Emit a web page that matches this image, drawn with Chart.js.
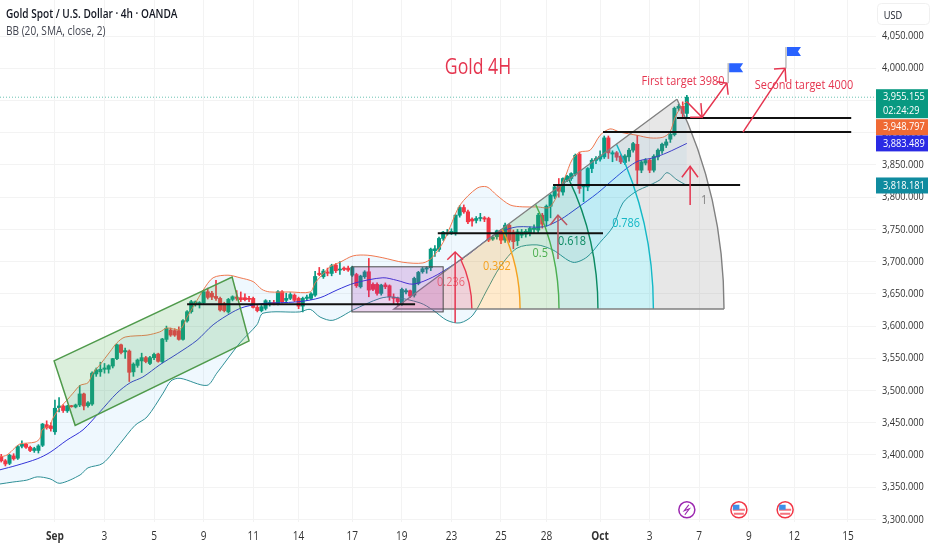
<!DOCTYPE html>
<html lang="en">
  <head>
    <meta charset="UTF-8" />
    <title>Gold 4H</title>
    <style>
      body {
        margin: 0;
        padding: 0;
        background: #ffffff;
        overflow: hidden;
      }
      #goldChart {
        display: block;
      }
    </style>
    <script src="https://cdn.jsdelivr.net/npm/chart.js"></script>
  </head>
  <body>
    <canvas id="goldChart" width="932" height="550"></canvas>
    <script>
      // 4h candles, oldest first
      const opens = [
        3397.6, 3391, 3387, 3398.6, 3395, 3413.6, 3416.6, 3412, 3407, 3407,
        3415, 3447, 3445, 3436, 3473.5, 3476, 3468.5, 3476, 3474.5, 3477.6,
        3494.7, 3476.6, 3479, 3525.7, 3529, 3533, 3533, 3538, 3549.5, 3571,
        3560, 3561.3, 3529, 3539, 3546, 3551, 3542, 3551, 3556.7, 3545,
        3579.4, 3593.9, 3593, 3592.9, 3579.4, 3608, 3622.3, 3634, 3635, 3636,
        3653.3, 3651, 3646, 3643, 3635, 3622, 3641.4, 3645, 3644, 3644,
        3643, 3643, 3629, 3624, 3627.5, 3635, 3636, 3635, 3653.3, 3640,
        3643, 3648, 3643, 3631, 3643, 3643, 3648, 3682, 3676.6, 3684,
        3681.7, 3694.6, 3687, 3690, 3690, 3679, 3680, 3661, 3676.6, 3684.3,
        3664.7, 3664.7, 3650.7, 3664, 3662.6, 3645, 3643, 3635.2, 3653, 3654.9,
        3648, 3666.2, 3684.3, 3688.5, 3690.5, 3717, 3719, 3736, 3743, 3745,
        3743.7, 3772, 3784, 3777.3, 3766, 3764, 3767, 3768, 3767, 3735,
        3738.6, 3747.9, 3733.4, 3756.6, 3746, 3732.4, 3741, 3742.7, 3743.7, 3750,
        3748.9, 3772.1, 3763.3, 3786, 3801.6, 3819.7, 3808, 3826.4, 3829, 3835.7,
        3866.7, 3816, 3815.9, 3844.5, 3857, 3859, 3862.6, 3892, 3867, 3869,
        3863.6, 3853.8, 3862.6, 3873, 3882, 3841.9, 3853, 3857.4, 3841.9, 3862.6,
        3871.9, 3880.6, 3890, 3897, 3938, 3941, 3930,
      ];
      const highs = [
        3401, 3393, 3401, 3402, 3415, 3422, 3418, 3414, 3412, 3416,
        3449, 3453, 3450, 3485, 3489, 3478, 3477, 3477, 3479, 3508,
        3496, 3483, 3529, 3535, 3544, 3542, 3540, 3550, 3572, 3572,
        3566, 3563, 3543, 3549, 3558, 3553, 3553, 3558, 3558, 3581,
        3600, 3597, 3596, 3599, 3610, 3624, 3640, 3639, 3638, 3655,
        3659, 3654, 3671, 3645, 3637, 3643, 3647, 3655, 3653, 3650,
        3646, 3645, 3632, 3632, 3641, 3640, 3640, 3655, 3655, 3651,
        3652, 3650, 3645, 3645, 3648, 3652, 3685, 3691, 3688, 3690,
        3696, 3697, 3700, 3692, 3693, 3693, 3682, 3679, 3686, 3705,
        3667, 3667, 3665, 3667, 3664, 3650, 3645, 3659, 3658, 3656,
        3676, 3685, 3691, 3692, 3721, 3725, 3738, 3747, 3750, 3751,
        3773, 3787, 3788, 3780, 3768, 3770, 3775, 3770, 3769, 3741,
        3749, 3750, 3760, 3758, 3749, 3750, 3750, 3750, 3754, 3757,
        3775, 3775, 3788, 3805, 3817, 3829, 3830, 3834, 3838, 3867,
        3870, 3820, 3846, 3860, 3863, 3872, 3895, 3895, 3872, 3871,
        3866, 3866, 3876, 3885, 3896, 3857, 3860, 3860, 3866, 3875,
        3884, 3890, 3899, 3940, 3944, 3948, 3958,
      ];
      const lows = [
        3389, 3383, 3385, 3392, 3393, 3411, 3410, 3405, 3404, 3403,
        3413, 3440, 3437, 3432, 3467, 3466, 3466, 3474, 3473, 3475,
        3470, 3474, 3477, 3522, 3522, 3527, 3527, 3535, 3548, 3557,
        3550, 3514, 3522, 3536, 3528, 3543, 3540, 3548, 3544, 3543,
        3576, 3584, 3584, 3578, 3578, 3606, 3620, 3631, 3628, 3634,
        3642, 3641, 3640, 3623, 3622, 3620, 3639, 3640, 3638, 3639,
        3638, 3628, 3622, 3622, 3625, 3631, 3633, 3633, 3636, 3637,
        3641, 3638, 3627, 3622, 3640, 3641, 3646, 3678, 3674, 3678,
        3678, 3683, 3680, 3686, 3685, 3677, 3660, 3659, 3674, 3645.5,
        3655, 3648, 3648, 3658, 3640, 3635, 3632, 3632, 3650, 3644,
        3645, 3664, 3682, 3682, 3686, 3708, 3716, 3733, 3741, 3742,
        3741, 3769, 3775, 3759, 3755, 3760, 3763, 3762, 3731, 3733,
        3735, 3728, 3730, 3730, 3720, 3725, 3737, 3738, 3740, 3745,
        3745, 3752, 3755, 3768, 3798, 3800, 3803, 3824, 3826, 3833,
        3806, 3793, 3810, 3838, 3852, 3856, 3860, 3860, 3855, 3857,
        3852, 3851, 3856, 3870, 3818, 3838, 3850, 3838, 3839, 3858,
        3868, 3877, 3885, 3895, 3934, 3925, 3925,
      ];
      const closes = [
        3391, 3386, 3399.6, 3394, 3413, 3416.6, 3412, 3407, 3410, 3414,
        3448, 3442.5, 3441, 3472.5, 3476, 3469, 3476, 3475, 3477.6, 3494.7,
        3476, 3481, 3527, 3532, 3533, 3535, 3538.6, 3549.5, 3571, 3559,
        3562, 3528.3, 3541, 3547.4, 3551, 3545, 3551, 3556, 3545.3, 3580,
        3596.5, 3586.1, 3586, 3579.4, 3608.4, 3622.3, 3637.8, 3637.8, 3636, 3653.3,
        3644.5, 3645, 3643, 3625, 3624, 3641.4, 3645.6, 3643, 3641, 3641,
        3641.5, 3629, 3624, 3630, 3639.4, 3636, 3635, 3653.3, 3637.8, 3643,
        3649, 3640, 3631, 3643, 3645, 3650, 3677, 3680, 3685.4, 3682,
        3693.6, 3685.9, 3688, 3688, 3687, 3691, 3662.6, 3677.6, 3684, 3655.9,
        3657, 3650.7, 3663.6, 3661, 3645.6, 3643, 3638, 3656.9, 3655, 3646.6,
        3674, 3683.3, 3688.9, 3690.5, 3719.4, 3720, 3736, 3745.8, 3744, 3747,
        3772, 3784, 3777.3, 3761.8, 3763, 3767, 3768.5, 3766, 3733.4, 3738,
        3747.9, 3733.4, 3756.6, 3733.4, 3731, 3746.3, 3746, 3747, 3751.5, 3752,
        3772.1, 3758.2, 3786, 3803.1, 3816, 3809.3, 3829, 3832.6, 3836.7, 3865,
        3813.5, 3818.6, 3844.5, 3857.4, 3860, 3863.6, 3892, 3868.8, 3869, 3862,
        3854.8, 3864, 3873, 3883.2, 3842, 3854.8, 3857, 3841.9, 3863.6, 3873,
        3882.2, 3885.8, 3897.7, 3938, 3941, 3930, 3955.155,
      ];

      // Bollinger bands, sampled along each curve as bar / price pairs
      const upperBars = [
        -0.3, 1.4, 3.3, 4.5, 8.2, 9.4, 9.9, 11.8, 12.5, 14.2, 15.9, 17.4, 19.1,
        21, 22.2, 23.9, 26.3, 28, 30, 35.3, 38.4, 40.1, 43.3, 45, 47.4, 48.9,
        51.3, 54.9, 57.8, 61, 63.1, 65, 69.9, 74.8, 76, 77.2, 79.6, 82, 85.2,
        88.6, 92.4, 97.3, 102.1, 104.3, 107, 108.7, 111.1, 115.2, 117.6, 120,
        123.2, 126.3, 129.7, 132.9, 136.5, 138.2, 140.1, 142.6, 145, 147.4,
        149.8, 154, 157.1, 160.2, 161.9, 163.1, 164.4, 166,
      ];
      const upperVals = [
        3397, 3400, 3411, 3417, 3420, 3426, 3439, 3446, 3457, 3473, 3485, 3496,
        3508, 3512, 3527, 3540, 3560, 3574, 3583, 3586, 3591, 3597, 3595, 3614,
        3640, 3656, 3675, 3679, 3675, 3669, 3657, 3653, 3653, 3653, 3667, 3676,
        3692, 3699, 3709, 3710, 3706, 3699, 3698, 3706, 3730, 3754, 3788, 3814,
        3816, 3803, 3788, 3785, 3785, 3785, 3831, 3858, 3870, 3873, 3896, 3906,
        3901, 3896, 3892, 3893, 3901, 3923, 3938, 3948.797,
      ];
      const basisBars = [
        -0.3, 3.8, 8.7, 11.8, 15.9, 19.8, 23.9, 28, 31.2, 34.3, 38.4, 42.6,
        47.4, 51.3, 56.1, 59, 63.4, 66.8, 72.3, 77.2, 81.3, 85.7, 92.4, 95.8,
        99.7, 104.5, 109.4, 113.5, 117.6, 120.8, 124.9, 131.2, 135.3, 139.4,
        144.3, 148.1, 151.5, 154.2, 157.8, 161.2, 166,
      ];
      const basisVals = [
        3377, 3384, 3394, 3404, 3423, 3439, 3467, 3496, 3512, 3521, 3540, 3557,
        3578, 3602, 3622, 3630, 3635, 3636, 3638, 3644, 3656, 3667, 3675, 3671,
        3665, 3676, 3695, 3713, 3734, 3746, 3754, 3754, 3765, 3783, 3806, 3827,
        3845, 3856, 3861, 3869, 3883.489,
      ];
      const lowerBars = [
        -0.3, 2.8, 6.2, 8.7, 11.8, 14.2, 19.1, 21, 24.6, 28.8, 32.4, 35.3, 39.2,
        41.1, 43.3, 49.8, 52.2, 57.8, 61.9, 63.4, 72.3, 74.8, 77.2, 80.3, 85.2,
        91.7, 94.9, 101.4, 104.5, 107.9, 111.1, 114.2, 117.6, 120.8, 124.9,
        129.7, 133.6, 138.4, 141.8, 145, 148.1, 150.5, 153.5, 157.1, 159.5,
        161.2, 163.6, 166,
      ];
      const lowerVals = [
        3355, 3358, 3361, 3366, 3363, 3356, 3369, 3380, 3387, 3418, 3446, 3459,
        3496, 3515, 3519, 3508, 3527, 3574, 3602, 3620, 3622, 3626, 3614, 3609,
        3625, 3643, 3645, 3636, 3625, 3609, 3605, 3617, 3656, 3692, 3721, 3726,
        3718, 3699, 3707, 3730, 3754, 3791, 3808, 3819, 3827, 3838, 3827, 3818.181,
      ];

      // axis labels
      const yTicks = [
        3300, 3350, 3400, 3450, 3500, 3550, 3600, 3650, 3700, 3750, 3800, 3850,
        3900, 3950, 4000, 4050,
      ];
      const xTickBars = [13, 25, 37, 49, 61, 72, 85, 97, 109, 121, 132, 145, 157, 169, 181, 192, 205];
      const xTickLabels = ["Sep", "3", "5", "9", "11", "14", "17", "19", "23", "25", "28", "Oct", "3", "7", "9", "12", "15"];

      // price labels on the right axis
      const axisPrices = [3955.155, 3948.797, 3883.489, 3818.181];
      const axisColors = ["#089981", "#ef6a35", "#2a2ae4", "#0f8b9f"];
      const countdown = "02:24:29";

      // fib wedge: ellipse centre, radii in bars and dollars, apex of the fan
      const fibCentre = [95.1, 3626.5];
      const fibRadius = [79.9, 633];
      const fibApex = [163.6, 3952];
      const fibLevels = [0, 0.236, 0.382, 0.5, 0.618, 0.786, 1];
      const fibLines = ["", "#e8394f", "#f5a11f", "#4caf50", "#0b8a62", "#14b8c6", "#808080"];
      const fibFills = ["", "rgba(242,54,69,0.2)", "rgba(255,152,0,0.2)", "rgba(76,175,80,0.2)", "rgba(8,153,129,0.2)", "rgba(0,188,212,0.2)", "rgba(120,120,120,0.18)"];
      const fibNames = ["", "0.236", "0.382", "0.5", "0.618", "0.786", "1"];
      const fibNameAt = [[], [108.9, 3668], [120, 3693], [130.5, 3713], [138.2, 3732], [151.3, 3760], [170.2, 3795]];

      // drawings, all as bar / price pairs
      const channel = [[12.8, 3546], [55.9, 3676], [60, 3577], [17.9, 3446]];
      const purpleBox = [[84.9, 3692], [107, 3622]];
      const blackLines = [
        [45, 100.2, 3634],
        [105.7, 145.7, 3744],
        [133.6, 178.9, 3819],
        [145.7, 205.8, 3901],
        [163.6, 205.8, 3923],
      ];
      const redPaths = [
        [[109.9, 3605], [109.9, 3715]],
        [[108, 3703], [109.9, 3715], [111.8, 3703]],
        [[166.8, 3788], [166.8, 3848]],
        [[164.8, 3831], [166.8, 3848], [168.7, 3831]],
        [[166, 3948], [169.7, 3924], [175.7, 3977]],
        [[166.8, 3924], [169.7, 3924], [169.4, 3946]],
        [[173.3, 3979], [175.7, 3977], [176, 3959]],
        [[179.6, 3901], [189.8, 4000]],
        [[187.1, 3999], [189.8, 4000], [190, 3979]],
      ];
      const mutedPaths = [
        [[134.8, 3704], [134.8, 3772]],
        [[132.9, 3757], [134.8, 3772], [137, 3757]],
      ];
      const flagBars = [176, 190];
      const flagTops = [4008, 4033];
      const flagBottoms = [3977, 4000];
      const eventBars = [166, 178.6, 189.8];
      const eventPrice = 3315;

      const up = "#089981";
      const down = "#f23645";
      const red = "#e5354f";
      const face = '"Open Sans"';

      function barColors() {
        return opens.map((o, i) => (closes[i] >= o ? up : down));
      }

      function priceText(v) {
        return v.toLocaleString("en-US", { minimumFractionDigits: 3, maximumFractionDigits: 3 });
      }

      const drawings = {
        id: "drawings",
        afterDatasetsDraw(chart) {
          const ctx = chart.ctx;
          const sx = chart.scales.x;
          const sy = chart.scales.y;
          const px = (b) => sx.getPixelForValue(b);
          const py = (p) => sy.getPixelForValue(p);

          // fib wedge
          const cx = px(fibCentre[0]);
          const cy = py(fibCentre[1]);
          const ra = px(fibCentre[0] + fibRadius[0]) - cx;
          const rb = cy - py(fibCentre[1] + fibRadius[1]);
          const ang = Math.atan2((cy - py(fibApex[1])) / rb, (px(fibApex[0]) - cx) / ra);
          for (let i = 1; i < fibLevels.length; i++) {
            ctx.beginPath();
            ctx.ellipse(cx, cy, ra * fibLevels[i], rb * fibLevels[i], 0, -ang, 0);
            if (i > 1) {
              ctx.ellipse(cx, cy, ra * fibLevels[i - 1], rb * fibLevels[i - 1], 0, 0, -ang, true);
            } else {
              ctx.lineTo(cx, cy);
            }
            ctx.closePath();
            ctx.fillStyle = fibFills[i];
            ctx.fill();
          }
          ctx.lineWidth = 1.4;
          for (let i = 1; i < fibLevels.length; i++) {
            ctx.beginPath();
            ctx.ellipse(cx, cy, ra * fibLevels[i], rb * fibLevels[i], 0, -ang, 0);
            ctx.strokeStyle = fibLines[i];
            ctx.stroke();
          }
          ctx.strokeStyle = "#808080";
          ctx.beginPath();
          ctx.moveTo(px(fibApex[0]), py(fibApex[1]));
          ctx.lineTo(cx, cy);
          ctx.lineTo(cx + ra, cy);
          ctx.stroke();

          // purple range box
          const bx = px(purpleBox[0][0]);
          const by = py(purpleBox[0][1]);
          const bw = px(purpleBox[1][0]) - bx;
          const bh = py(purpleBox[1][1]) - by;
          ctx.fillStyle = "rgba(156,39,176,0.2)";
          ctx.fillRect(bx, by, bw, bh);
          ctx.strokeStyle = "#4a4a4a";
          ctx.lineWidth = 1;
          ctx.strokeRect(bx, by, bw, bh);

          // rising channel
          ctx.beginPath();
          channel.forEach((p, i) => (i ? ctx.lineTo(px(p[0]), py(p[1])) : ctx.moveTo(px(p[0]), py(p[1]))));
          ctx.closePath();
          ctx.fillStyle = "rgba(76,175,80,0.2)";
          ctx.fill();
          ctx.strokeStyle = "#4f9a4b";
          ctx.lineWidth = 1.5;
          ctx.stroke();

          // last price dotted line
          ctx.save();
          ctx.setLineDash([1, 2]);
          ctx.strokeStyle = "rgba(8,153,129,0.6)";
          ctx.lineWidth = 1;
          ctx.beginPath();
          ctx.moveTo(sx.left, py(axisPrices[0]));
          ctx.lineTo(sx.right, py(axisPrices[0]));
          ctx.stroke();
          ctx.restore();

          // support lines
          ctx.strokeStyle = "#111111";
          ctx.lineWidth = 2;
          blackLines.forEach((l) => {
            ctx.beginPath();
            ctx.moveTo(px(l[0]), py(l[2]));
            ctx.lineTo(px(l[1]), py(l[2]));
            ctx.stroke();
          });

          // arrows
          const stroke = (paths, color) => {
            ctx.strokeStyle = color;
            ctx.lineWidth = 1.5;
            paths.forEach((path) => {
              ctx.beginPath();
              path.forEach((p, i) => (i ? ctx.lineTo(px(p[0]), py(p[1])) : ctx.moveTo(px(p[0]), py(p[1]))));
              ctx.stroke();
            });
          };
          stroke(redPaths, red);
          stroke(mutedPaths, "#bb5560");

          // flags
          flagBars.forEach((b, i) => {
            const x = px(b);
            const top = py(flagTops[i]);
            ctx.strokeStyle = "#9a9a9a";
            ctx.lineWidth = 1;
            ctx.beginPath();
            ctx.moveTo(x, top);
            ctx.lineTo(x, py(flagBottoms[i]));
            ctx.stroke();
            ctx.fillStyle = "#2962ff";
            ctx.beginPath();
            ctx.moveTo(x + 1, top);
            ctx.lineTo(x + 15, top);
            ctx.lineTo(x + 12, top + 4.5);
            ctx.lineTo(x + 15, top + 9);
            ctx.lineTo(x + 1, top + 9);
            ctx.closePath();
            ctx.fill();
          });

          // fib level names and notes
          ctx.textBaseline = "middle";
          ctx.textAlign = "center";
          ctx.font = "13px " + face;
          for (let i = 1; i < fibNames.length; i++) {
            ctx.fillStyle = fibLines[i];
            ctx.globalAlpha = i === 1 ? 0.7 : 1;
            ctx.fillText(fibNames[i], px(fibNameAt[i][0]), py(fibNameAt[i][1]));
          }
          ctx.globalAlpha = 1;
          ctx.fillStyle = red;
          ctx.font = "21px " + face;
          ctx.fillText("Gold 4H", 478, 68);
          ctx.font = "13px " + face;
          ctx.fillText("First target 3980", 683, 81);
          ctx.fillText("Second target 4000", 804, 85);

          // header
          ctx.textAlign = "left";
          ctx.fillStyle = "#131722";
          ctx.font = "600 12px " + face;
          ctx.fillText("Gold Spot / U.S. Dollar · 4h · OANDA", 6, 15);
          ctx.fillStyle = "#434651";
          ctx.font = "12px " + face;
          ctx.fillText("BB (20, SMA, close, 2)", 6, 32);

          // price boxes on the axis
          const right = sx.right;
          ctx.font = "11px " + face;
          ctx.fillStyle = axisColors[0];
          ctx.fillRect(right, py(axisPrices[0]) - 8, 52, 29);
          ctx.fillStyle = "#ffffff";
          ctx.fillText(priceText(axisPrices[0]), right + 7, py(axisPrices[0]));
          ctx.fillText(countdown, right + 7, py(axisPrices[0]) + 14);
          for (let i = 1; i < axisPrices.length; i++) {
            const mid = i === 1 ? py(axisPrices[0]) + 30 : py(axisPrices[i]);
            ctx.fillStyle = axisColors[i];
            ctx.fillRect(right, mid - 8, 52, 16);
            ctx.fillStyle = "#ffffff";
            ctx.fillText(priceText(axisPrices[i]), right + 7, mid);
          }
          ctx.strokeStyle = "#f0f0f0";
          ctx.lineWidth = 1;
          ctx.beginPath();
          ctx.roundRect(877.5, 3.5, 52, 21, 4);
          ctx.stroke();
          ctx.fillStyle = "#131722";
          ctx.font = "11px " + face;
          ctx.textAlign = "center";
          ctx.fillText("USD", 893, 16);

          // calendar events along the bottom
          eventBars.forEach((b, i) => {
            const x = px(b);
            const y = py(eventPrice);
            ctx.fillStyle = "#ffffff";
            ctx.strokeStyle = i ? "#f23645" : "#9c27b0";
            ctx.lineWidth = 1.5;
            ctx.beginPath();
            ctx.arc(x, y, 8, 0, Math.PI * 2);
            ctx.fill();
            ctx.stroke();
            if (i === 0) {
              ctx.strokeStyle = "#9c27b0";
              ctx.lineWidth = 1.2;
              ctx.beginPath();
              ctx.moveTo(x + 2, y - 5);
              ctx.lineTo(x - 2.5, y + 1);
              ctx.lineTo(x + 2.5, y - 1);
              ctx.lineTo(x - 2, y + 5);
              ctx.stroke();
            } else {
              ctx.fillStyle = "#f4727d";
              ctx.fillRect(x - 6, y - 1, 12, 2);
              ctx.fillRect(x - 5, y + 3, 10, 2);
              ctx.fillStyle = "#3f8fe8";
              ctx.fillRect(x - 6, y - 5, 6.5, 5);
            }
          });
        },
      };

      const ctx = document.getElementById("goldChart").getContext("2d");

      // the reference screenshot was squeezed sideways, so all text is drawn a bit narrow
      const plainFillText = ctx.fillText.bind(ctx);
      ctx.fillText = function (text, x, y) {
        ctx.save();
        ctx.translate(x, y);
        ctx.scale(0.84, 1);
        plainFillText(text, 0, 0);
        ctx.restore();
      };

      new Chart(ctx, {
        type: "bar",
        data: {
          datasets: [
            {
              type: "line",
              data: upperBars.map((b, i) => ({ x: b, y: upperVals[i] })),
              borderColor: "#f0784f",
              borderWidth: 1,
              pointRadius: 0,
              tension: 0.3,
              fill: { target: 2 },
              backgroundColor: "rgba(33,150,243,0.07)",
              order: 1,
            },
            {
              type: "line",
              data: basisBars.map((b, i) => ({ x: b, y: basisVals[i] })),
              borderColor: "#3333d8",
              borderWidth: 1,
              pointRadius: 0,
              tension: 0.3,
              order: 1,
            },
            {
              type: "line",
              data: lowerBars.map((b, i) => ({ x: b, y: lowerVals[i] })),
              borderColor: "#2e8f96",
              borderWidth: 1,
              pointRadius: 0,
              tension: 0.3,
              order: 1,
            },
            {
              data: opens.map((o, i) => ({ x: i, y: [o, closes[i]] })),
              backgroundColor: barColors(),
              barThickness: 3.4,
              minBarLength: 1,
              grouped: false,
              order: 2,
            },
            {
              data: lows.map((l, i) => ({ x: i, y: [l, highs[i]] })),
              backgroundColor: barColors(),
              barThickness: 1,
              grouped: false,
              order: 3,
            },
          ],
        },
        options: {
          responsive: false,
          animation: false,
          events: [],
          layout: { padding: 0 },
          plugins: {
            legend: { display: false },
            tooltip: { enabled: false },
            filler: { drawTime: "beforeDatasetsDraw" },
          },
          scales: {
            x: {
              type: "linear",
              min: -0.3,
              max: 211.8,
              offset: false,
              grid: { color: "#f3f3f3", offset: false, drawTicks: false },
              border: { display: false },
              afterBuildTicks(scale) {
                scale.ticks = xTickBars.map((b) => ({ value: b }));
              },
              afterFit(scale) {
                scale.height = 28;
                scale.paddingLeft = 0;
                scale.paddingRight = 0;
              },
              ticks: {
                autoSkip: false,
                maxRotation: 0,
                padding: 7,
                color: "#333333",
                font: (c) => ({
                  size: 12,
                  family: face,
                  weight: c.tick && /[A-Za-z]/.test(xTickLabels[xTickBars.indexOf(c.tick.value)] || "") ? "bold" : "normal",
                }),
                callback: (v) => xTickLabels[xTickBars.indexOf(v)],
              },
            },
            y: {
              position: "right",
              min: 3296,
              max: 4106,
              grid: { color: "#f3f3f3", drawTicks: false },
              border: { display: false },
              afterBuildTicks(scale) {
                scale.ticks = yTicks.map((v) => ({ value: v }));
              },
              afterFit(scale) {
                scale.width = 56;
                scale.paddingTop = 0;
                scale.paddingBottom = 0;
              },
              ticks: {
                padding: 6,
                color: "#333333",
                font: { size: 11, family: face },
                callback: (v) => priceText(v),
              },
            },
          },
        },
        plugins: [drawings],
      });
    </script>
  </body>
</html>
